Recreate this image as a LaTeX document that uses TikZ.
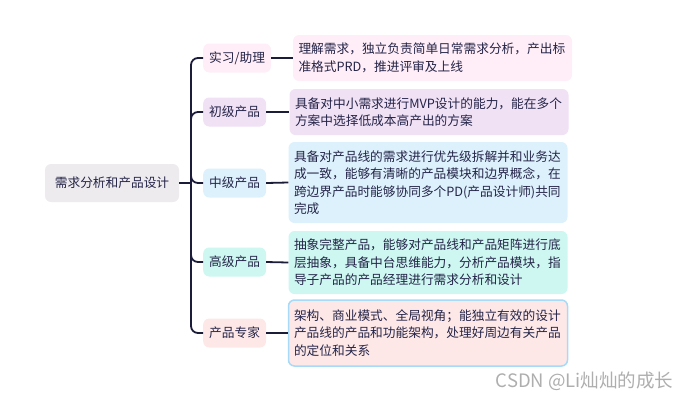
\documentclass[tikz,border=0pt]{standalone}
\usepackage{fontspec}
\setmainfont{Noto Sans CJK SC}
\usepackage{tikz}
\usepackage{xcolor}
\usetikzlibrary{positioning,calc}
\definecolor{RootGrey}{HTML}{EDEBEE}
\definecolor{InternPink}{HTML}{FFEEF7}
\definecolor{JuniorLilac}{HTML}{F0E1F5}
\definecolor{MidBlue}{HTML}{DDF1FC}
\definecolor{SeniorMint}{HTML}{CDF7F0}
\definecolor{ExpertRose}{HTML}{FDE8E7}
\definecolor{ExpertEdge}{HTML}{A6DAF8}
\definecolor{InkNavy}{HTML}{1B1B3A}
\definecolor{TextNavy}{HTML}{242448}
\definecolor{MarkGrey}{HTML}{AEAEAE}
\tikzset{
    every node/.style={font=\fontsize{12.7}{17.5}\selectfont, text=TextNavy},
    rootbox/.style={
        fill=RootGrey, rounded corners=6pt,
        minimum width=134pt, minimum height=38pt, inner sep=0pt
    },
    levelbox/.style={
        fill=#1, rounded corners=6pt,
        minimum height=29pt, inner xsep=6pt, inner ysep=0pt
    },
    detailbox/.style={
        fill=#1, rounded corners=6pt,
        text width=268pt, inner xsep=5.5pt, inner ysep=0pt,
        align=left
    },
    branch/.style={
        line width=1.8pt, color=InkNavy, rounded corners=7pt
    },
}
\begin{document}
\begin{tikzpicture}[x=1pt,y=-1pt]
    \useasboundingbox (0,0) rectangle (692,400);

    % Root topic
    \node[rootbox] (root) at (112,183) {需求分析和产品设计};
    \coordinate (trunk) at (191,183);

    % Levels
    \node[levelbox=InternPink, anchor=west] (lvl1) at (203,58) {实习/助理};
    \node[levelbox=JuniorLilac, anchor=west] (lvl2) at (203,112) {初级产品};
    \node[levelbox=MidBlue, anchor=west] (lvl3) at (203,183) {中级产品};
    \node[levelbox=SeniorMint, anchor=west] (lvl4) at (203,262) {高级产品};
    \node[levelbox=ExpertRose, anchor=west] (lvl5) at (203,333) {产品专家};

    % Descriptions
    \node[detailbox=InternPink, minimum height=46pt] (desc1) at (432.5,58)
        {理解需求，独立负责简单日常需求分析，产出标\\准格式PRD，推进评审及上线};
    \node[detailbox=JuniorLilac, minimum height=46pt] (desc2) at (429,112)
        {具备对中小需求进行MVP设计的能力，能在多个\\方案中选择低成本高产出的方案};
    \node[detailbox=MidBlue, minimum height=81pt] (desc3) at (428,182.5)
        {具备对产品线的需求进行优先级拆解并和业务达\\成一致，能够有清晰的产品模块和边界概念，在\\跨边界产品时能够协同多个PD(产品设计师)共同\\完成};
    \node[detailbox=SeniorMint, minimum height=63pt] (desc4) at (428,262.5)
        {抽象完整产品，能够对产品线和产品矩阵进行底\\层抽象，具备中台思维能力，分析产品模块，指\\导子产品的产品经理进行需求分析和设计};
    \node[detailbox=ExpertRose, minimum height=66pt, draw=ExpertEdge, line width=1.5pt] (desc5) at (428,333)
        {架构、商业模式、全局视角；能独立有效的设计\\产品线的产品和功能架构，处理好周边有关产品\\的定位和关系};

    % Branch lines
    \draw[branch] (root.east) -- (trunk);
    \draw[branch] (lvl1.west) -| (trunk) |- (lvl5.west);
    \foreach \i in {2,3,4} {
        \draw[branch] (trunk) |- (lvl\i.west);
    }
    \foreach \i in {1,...,5} {
        \draw[branch] (lvl\i.east) -- (desc\i.west);
    }

    % Watermark
    \node[font=\fontsize{18.5}{22}\selectfont, text=MarkGrey, anchor=east] (mark) at (677,381) {CSDN @Li灿灿的成长};
\end{tikzpicture}
\end{document}
